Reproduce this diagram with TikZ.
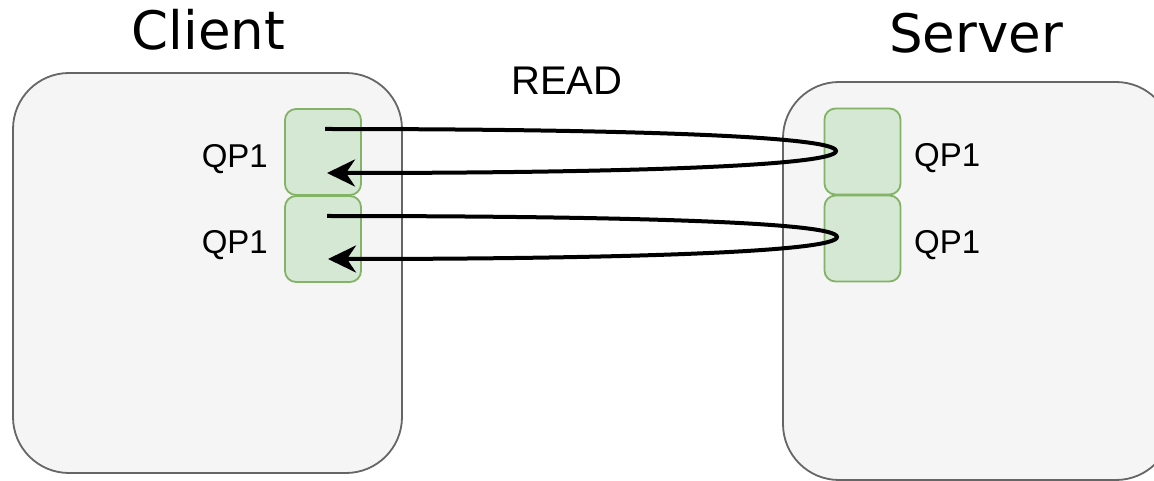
\documentclass[tikz,border=0pt]{standalone}
\usepackage{fontspec}
\setmainfont{Liberation Sans}
\newfontfamily\titlefont{DejaVu Sans}
\usetikzlibrary{arrows.meta}
\definecolor{hostfill}{HTML}{F5F5F5}
\definecolor{hostline}{HTML}{666666}
\definecolor{qpfill}{HTML}{D5E8D4}
\definecolor{qpline}{HTML}{82B366}
\tikzset{
  hostbox/.style={draw=hostline, fill=hostfill, line width=1.8pt, rounded corners=56pt,
    minimum width=389pt, inner sep=0pt},
  qpbox/.style={draw=qpline, fill=qpfill, line width=1.8pt, rounded corners=11pt,
    minimum width=76pt, minimum height=86pt, inner sep=0pt},
  title/.style={font=\titlefont\fontsize{53}{60}\selectfont, anchor=base, inner sep=0pt},
  qplabel/.style={font=\fontsize{33}{38}\selectfont, inner sep=0pt},
  oplabel/.style={font=\fontsize{40}{46}\selectfont, anchor=base, inner sep=0pt},
  flow/.style={line width=4pt, black, -{Stealth[length=28pt, width=27pt, inset=9pt]}}
}
\begin{document}
\begin{tikzpicture}[x=1pt, y=-1pt]
  \clip (0,0) rectangle (1154,481);
  \fill[white] (0,0) rectangle (1154,481);

  % hosts
  \node[hostbox, minimum height=400pt] (client) at (207.5,273) {};
  \node[hostbox, minimum height=398pt] (server) at (977.5,281) {};
  \node[title] (clienttitle) at (208.5,50) {Client};
  \node[title] (servertitle) at (976,53) {Server};

  % queue pairs
  \node[qpbox] (cq1) at (323,152) {};
  \node[qpbox] (cq2) at (323,239) {};
  \node[qpbox] (sq1) at (862.5,151.5) {};
  \node[qpbox] (sq2) at (862.5,238.5) {};

  \node[qplabel, anchor=base east] (cl1) at (268,168) {QP1};
  \node[qplabel, anchor=base east] (cl2) at (268,254) {QP1};
  \node[qplabel, anchor=base west] (sl1) at (914,167) {QP1};
  \node[qplabel, anchor=base west] (sl2) at (914,254) {QP1};

  \node[oplabel] (read) at (567,95) {READ};

  % request / response loops
  \coordinate (c1out) at (325,129);
  \coordinate (s1tip) at (836,151);
  \coordinate (c1in)  at (327,173);
  \coordinate (c2out) at (327,216);
  \coordinate (s2tip) at (837,237);
  \coordinate (c2in)  at (328,259);

  \draw[flow] (c1out) .. controls (620,129) and (836,136) .. (s1tip)
                      .. controls (836,166) and (620,173) .. (c1in);
  \draw[flow] (c2out) .. controls (620,216) and (837,222) .. (s2tip)
                      .. controls (837,252) and (620,259) .. (c2in);
\end{tikzpicture}
\end{document}
